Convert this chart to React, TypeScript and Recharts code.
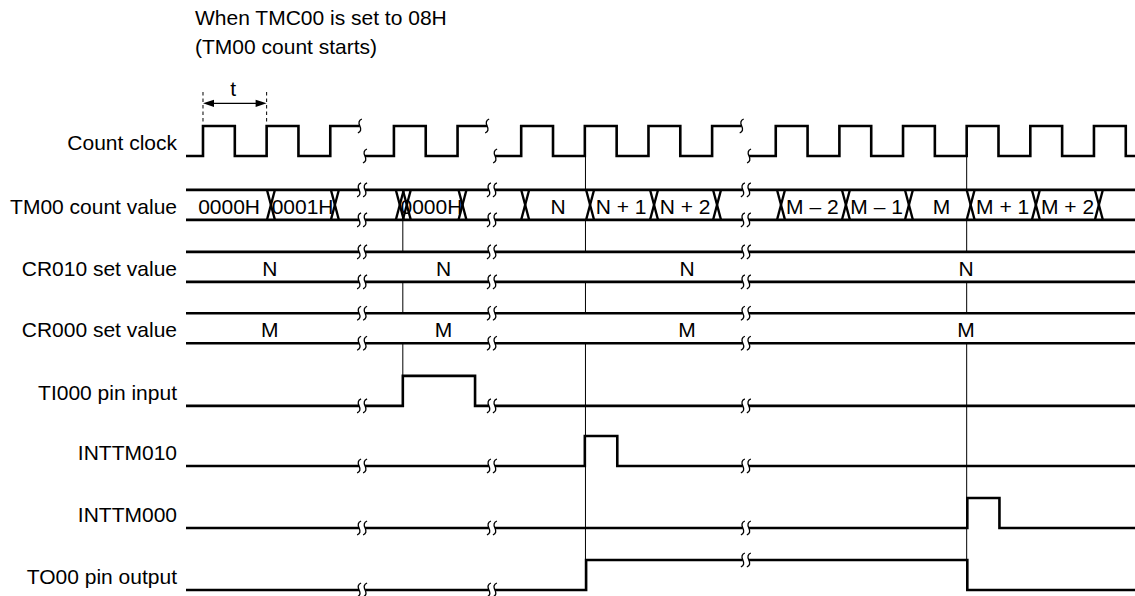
import React from 'react';
import { ComposedChart, Line, XAxis, YAxis, ReferenceLine, ReferenceDot } from 'recharts';

const W = 1135;
const H = 596;
const FONT = '"Liberation Sans", Arial, Helvetica, sans-serif';
const FS = 21;
const INK = '#000';
const THICK = 2.6;

// time axis in half-clock units (0 = first rising edge of the count clock)
const X_MIN = -0.534;
const X_MAX = 29.29;
// vertical axis in row units (row i low level = ROW_BASE[i])
const Y_MAX = 2.516;
const Y_MIN = -7.097;
const AMP = 0.484;

const SIGNALS = [
  'Count clock',
  'TM00 count value',
  'CR010 set value',
  'CR000 set value',
  'TI000 pin input',
  'INTTM010',
  'INTTM000',
  'TO00 pin output',
];
const ROW_BASE = [0, -1.03, -2.03, -3.02, -4.03, -5, -6, -7];

// time breaks
const BREAKS = [5.0, 9.08, 17.06];
const GAP = 0.094;

// count clock
const CLOCK_SEGMENTS = [
  [-0.534, 4.93],
  [5.09, 8.93],
  [9.18, 16.93],
  [17.16, 29.29],
];
const CLOCK_RISES = [0, 2, 4, 6, 8, 10, 12, 14, 16, 18, 20, 22, 24, 26, 28];
const CLOCK_FALLS = [1, 3, 7, 11, 13, 15, 19, 21, 23, 25, 27, 29];

// TM00 count value bus
const COUNT_CHANGES = [2.01, 4.02, 6.06, 6.28, 8.03, 10.0, 12.04, 14.05, 16.03, 18.04, 20.08, 22.06, 24.0, 26.05, 28.03];
const X_WIDTH = 0.25;
const COUNT_LABELS = ['0000H', '0001H', '0000H', 'N', 'N + 1', 'N + 2', 'M – 2', 'M – 1', 'M', 'M + 1', 'M + 2'];
const COUNT_LABEL_POS = [0.82, 3.13, 7.18, 11.16, 13.14, 15.15, 19.15, 21.17, 23.21, 25.13, 27.17];

// compare registers
const CR010_LABELS = ['N', 'N', 'N', 'N'];
const CR000_LABELS = ['M', 'M', 'M', 'M'];
const CR_LABEL_POS = [2.1, 7.56, 15.21, 23.98];

// single-bit signals: edge times
const TI000_EDGES = [6.28, 8.55];
const INTTM010_EDGES = [12.0, 13.02];
const INTTM000_EDGES = [24.02, 25.03];
const TO00_EDGES = [12.04, 24.02];

// thin guide lines
const GUIDE_CAPTURE = 6.28;
const GUIDE_MATCHES = [12.02, 24.0];

// period annotation
const PERIOD_FROM = 0;
const PERIOD_TO = 2;
const NOTE_LINES = ['When TMC00 is set to 08H', '(TM00 count starts)'];

const toY = (row: number, level: number) => ROW_BASE[row] + level * AMP;
const levelAt = (edges: number[], t: number) => edges.filter((e) => e <= t).length % 2;

const SEGS: number[][] = [
  [X_MIN, BREAKS[0] - GAP],
  [BREAKS[0] + GAP, BREAKS[1] - GAP],
  [BREAKS[1] + GAP, BREAKS[2] - GAP],
  [BREAKS[2] + GAP, X_MAX],
];

function buildSteps(edges: number[], segs: number[][], row: number, startLevels?: number[]) {
  return segs.map(([s, e], i) => {
    let lvl = startLevels ? startLevels[i] : levelAt(edges, s);
    const pts = [{ u: s, v: toY(row, lvl) }];
    edges
      .filter((x) => x > s && x < e)
      .forEach((x) => {
        lvl = 1 - lvl;
        pts.push({ u: x, v: toY(row, lvl) });
      });
    pts.push({ u: e, v: toY(row, lvl) });
    return pts;
  });
}

const clockEdges = [...CLOCK_RISES, ...CLOCK_FALLS].sort((a, b) => a - b);
const clockSeries = buildSteps(clockEdges, CLOCK_SEGMENTS, 0, [0, 0, 0, 0]);

const bitRows: { row: number; edges: number[] }[] = [
  { row: 4, edges: TI000_EDGES },
  { row: 5, edges: INTTM010_EDGES },
  { row: 6, edges: INTTM000_EDGES },
  { row: 7, edges: TO00_EDGES },
];
const bitSeries = bitRows.flatMap((r) => buildSteps(r.edges, SEGS, r.row));

const busSeries = [1, 2, 3].flatMap((row) =>
  [0, 1].flatMap((lvl) =>
    SEGS.map(([s, e]) => [
      { u: s, v: toY(row, lvl) },
      { u: e, v: toY(row, lvl) },
    ])
  )
);

// break marks
type Mark = { u: number; y: number };
const breakMarks: Mark[] = [];
[1, 2, 3].forEach((row) =>
  [0, 1].forEach((lvl) =>
    BREAKS.forEach((b) => {
      breakMarks.push({ u: b - GAP, y: toY(row, lvl) });
      breakMarks.push({ u: b + GAP, y: toY(row, lvl) });
    })
  )
);
bitRows.forEach((r) =>
  BREAKS.forEach((b) => {
    const y = toY(r.row, levelAt(r.edges, b));
    breakMarks.push({ u: b - GAP, y });
    breakMarks.push({ u: b + GAP, y });
  })
);
CLOCK_SEGMENTS.forEach(([s, e], i) => {
  if (i > 0) breakMarks.push({ u: s, y: toY(0, 0) });
  if (i < CLOCK_SEGMENTS.length - 1) breakMarks.push({ u: e, y: toY(0, 1) });
});

// guide line pieces: drawn in the gaps between bus rows only
const capturePieces = [
  [toY(1, 0), toY(2, 1)],
  [toY(2, 0), toY(3, 1)],
  [toY(3, 0), toY(4, 1)],
];
const matchPieces = [
  [toY(0, 0), toY(1, 1)],
  [toY(1, 0), toY(2, 1)],
  [toY(2, 0), toY(3, 1)],
  [toY(3, 0), toY(7, 0)],
];

const TICKS = ROW_BASE.map((b) => b + AMP / 2 - 0.024);

const sCurve = (p: any) => {
  const { cx, cy } = p;
  return (
    <path
      d={`M ${cx + 2} ${cy - 7} Q ${cx - 2.5} ${cy - 5} ${cx} ${cy} Q ${cx + 2.5} ${cy + 5} ${cx - 2} ${cy + 7}`}
      stroke={INK}
      strokeWidth={1.3}
      fill="none"
    />
  );
};

const textShape = (txt: string, anchor: 'start' | 'middle' | 'end', centered: boolean) => (p: any) => (
  <text
    x={p.cx}
    y={p.cy}
    dy={centered ? '0.355em' : 0}
    textAnchor={anchor}
    fontFamily={FONT}
    fontSize={FS}
    fill={INK}
  >
    {txt}
  </text>
);

const arrowHead = (dir: 1 | -1) => (p: any) => {
  const { cx, cy } = p;
  return (
    <path
      d={`M ${cx} ${cy} L ${cx + dir * 11} ${cy - 3.6} L ${cx + dir * 11} ${cy + 3.6} Z`}
      fill={INK}
      stroke="none"
    />
  );
};

export default function App() {
  const busTop = toY(1, 1);
  const busBot = toY(1, 0);
  const busMid = (busTop + busBot) / 2 - 0.024;
  const periodTop = toY(0, 1) + 0.548;
  const arrowY = toY(0, 1) + 0.366;
  const tY = toY(0, 1) + 0.476;
  const noteY = [toY(0, 1) + 1.629, toY(0, 1) + 1.161];

  return (
    <div style={{ position: 'absolute', left: 0, top: 0, width: W, height: H, background: '#fff' }}>
      <ComposedChart width={W} height={H} margin={{ top: 0, right: 0, bottom: 0, left: 0 }}>
        <XAxis type="number" dataKey="u" domain={[X_MIN, X_MAX]} allowDataOverflow hide />
        <YAxis
          type="number"
          domain={[Y_MIN, Y_MAX]}
          allowDataOverflow
          width={186}
          ticks={TICKS}
          interval={0}
          axisLine={false}
          tickLine={false}
          tickSize={0}
          tickMargin={9}
          tick={{ fill: INK, fontSize: FS, fontFamily: FONT }}
          tickFormatter={(v: number) => SIGNALS[TICKS.findIndex((t) => Math.abs(t - v) < 1e-6)] ?? ''}
        />

        {clockSeries.map((d, i) => (
          <Line key={`clk${i}`} data={d} dataKey="v" type="stepAfter" stroke={INK} strokeWidth={THICK}
            dot={false} activeDot={false} isAnimationActive={false} legendType="none" />
        ))}
        {busSeries.map((d, i) => (
          <Line key={`bus${i}`} data={d} dataKey="v" type="linear" stroke={INK} strokeWidth={THICK}
            dot={false} activeDot={false} isAnimationActive={false} legendType="none" />
        ))}
        {bitSeries.map((d, i) => (
          <Line key={`bit${i}`} data={d} dataKey="v" type="stepAfter" stroke={INK} strokeWidth={THICK}
            dot={false} activeDot={false} isAnimationActive={false} legendType="none" />
        ))}

        {COUNT_CHANGES.flatMap((c, i) => [
          <ReferenceLine key={`xa${i}`} segment={[{ x: c, y: busTop }, { x: c + X_WIDTH, y: busBot }]}
            stroke={INK} strokeWidth={2.3} />,
          <ReferenceLine key={`xb${i}`} segment={[{ x: c, y: busBot }, { x: c + X_WIDTH, y: busTop }]}
            stroke={INK} strokeWidth={2.3} />,
        ])}

        {capturePieces.map(([a, b], i) => (
          <ReferenceLine key={`gc${i}`} segment={[{ x: GUIDE_CAPTURE, y: a }, { x: GUIDE_CAPTURE, y: b }]} stroke={INK} strokeWidth={1} />
        ))}
        {GUIDE_MATCHES.flatMap((g, j) =>
          matchPieces.map(([a, b], i) => (
            <ReferenceLine key={`gm${j}-${i}`} segment={[{ x: g, y: a }, { x: g, y: b }]} stroke={INK} strokeWidth={1} />
          ))
        )}

        {/* period annotation */}
        {[PERIOD_FROM, PERIOD_TO].map((x, i) => (
          <ReferenceLine key={`pd${i}`} segment={[{ x, y: periodTop }, { x, y: toY(0, 1) + 0.05 }]}
            stroke={INK} strokeWidth={1} strokeDasharray="3.5 3" />
        ))}
        <ReferenceLine segment={[{ x: PERIOD_FROM + 0.2, y: arrowY }, { x: PERIOD_TO - 0.2, y: arrowY }]} stroke={INK} strokeWidth={1.3} />
        <ReferenceDot x={PERIOD_FROM} y={arrowY} r={0} shape={arrowHead(1)} />
        <ReferenceDot x={PERIOD_TO} y={arrowY} r={0} shape={arrowHead(-1)} />
        <ReferenceDot x={(PERIOD_FROM + PERIOD_TO) / 2 - 0.05} y={tY} r={0} shape={textShape('t', 'middle', false)} />

        {NOTE_LINES.map((line, i) => (
          <ReferenceDot key={`note${i}`} x={-0.25} y={noteY[i]} r={0} shape={textShape(line, 'start', false)} />
        ))}

        {COUNT_LABELS.map((lab, i) => (
          <ReferenceDot key={`cl${i}`} x={COUNT_LABEL_POS[i]} y={busMid} r={0} shape={textShape(lab, 'middle', true)} />
        ))}
        {CR010_LABELS.map((lab, i) => (
          <ReferenceDot key={`n${i}`} x={CR_LABEL_POS[i]} y={(toY(2, 0) + toY(2, 1)) / 2 - 0.024} r={0} shape={textShape(lab, 'middle', true)} />
        ))}
        {CR000_LABELS.map((lab, i) => (
          <ReferenceDot key={`m${i}`} x={CR_LABEL_POS[i]} y={(toY(3, 0) + toY(3, 1)) / 2 - 0.024} r={0} shape={textShape(lab, 'middle', true)} />
        ))}

        {breakMarks.map((m, i) => (
          <ReferenceDot key={`bk${i}`} x={m.u} y={m.y} r={0} shape={sCurve} />
        ))}
      </ComposedChart>
    </div>
  );
}
